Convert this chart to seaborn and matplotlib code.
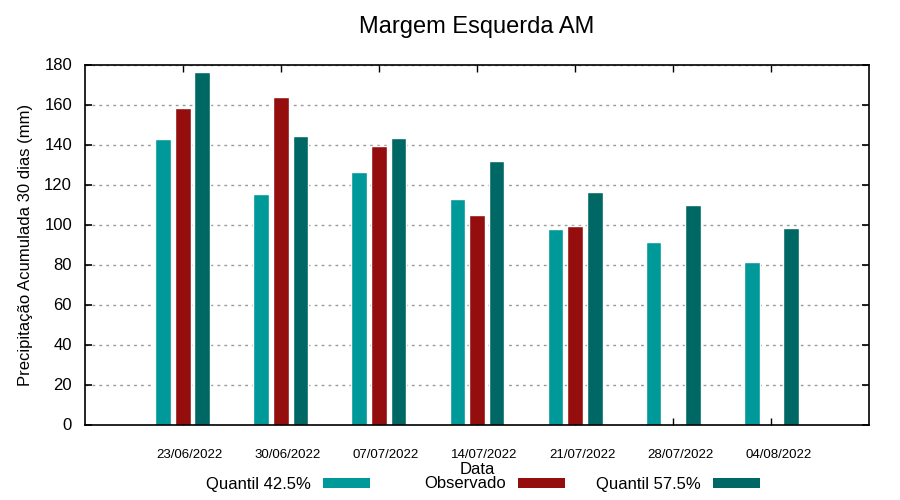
import pandas as pd
import numpy as np
import seaborn as sns
import matplotlib.pyplot as plt
import matplotlib.transforms as mtransforms
from matplotlib.patches import Patch

# weekly dates and the three series
datas = ["23/06/2022", "30/06/2022", "07/07/2022", "14/07/2022",
         "21/07/2022", "28/07/2022", "04/08/2022"]
quantil_425 = [142.6, 115.1, 126.1, 112.6, 97.6, 91.1, 81.1]
observado = [158.1, 163.6, 139.1, 104.6, 99.1, np.nan, np.nan]
quantil_575 = [176.1, 144.1, 143.1, 131.6, 116.1, 109.6, 98.1]

series = ["Quantil 42.5%", "Observado", "Quantil 57.5%"]
cores = ["#009999", "#940e0e", "#006864"]

df = pd.DataFrame({
    "Data": datas * 3,
    "serie": np.repeat(series, len(datas)),
    "valor": quantil_425 + observado + quantil_575,
}).dropna()

sns.set_style("white")
plt.rcParams["font.family"] = ["Liberation Sans", "DejaVu Sans"]
plt.rcParams["text.color"] = "black"
plt.rcParams["axes.labelcolor"] = "black"

fig = plt.figure(figsize=(9, 5), dpi=100)
ax = fig.add_axes([0.094, 0.151, 0.872, 0.72])

sns.barplot(data=df, x="Data", y="valor", hue="serie", order=datas,
            hue_order=series, palette=cores, width=0.6, gap=0.2,
            saturation=1, errorbar=None, legend=False, ax=ax)

ax.set_xlim(-1, 7)
ax.set_ylim(0, 180)
ax.set_yticks(range(0, 181, 20))
ax.yaxis.grid(True, linestyle=(0, (2, 3)), color="#999999", linewidth=1)
ax.set_axisbelow(True)
for s in ax.spines.values():
    s.set_color("black")
    s.set_linewidth(1.2)

ax.tick_params(axis="y", direction="in", length=5, width=1.2, labelsize=12,
               right=True, left=True, colors="black", pad=9)
ax.tick_params(axis="x", direction="in", length=5, width=1, labelsize=9.5,
               top=True, bottom=True, colors="black", pad=18)
# labels sit a bit to the right of the ticks, gnuplot style
off = mtransforms.ScaledTranslation(7 / 100, 0, fig.dpi_scale_trans)
for lbl in ax.get_xticklabels():
    lbl.set_transform(lbl.get_transform() + off)

ax.set_xlabel("Data", fontsize=12, labelpad=0)
ax.set_ylabel("Precipitação Acumulada 30 dias (mm)", fontsize=12, labelpad=8)
# title centred over the plot area, not the figure
fig.suptitle("Margem Esquerda AM", fontsize=17, x=0.53, y=0.968)

# gnuplot key: right-aligned text, then the swatch, fixed column width
right_edges = [370 / 900, 565 / 900, 760 / 900]
for nome, cor, xr in zip(series, cores, right_edges):
    fig.legend([Patch(facecolor=cor, edgecolor="none")], [nome],
               loc="center right", bbox_to_anchor=(xr, 0.032),
               frameon=False, markerfirst=False, fontsize=12,
               handlelength=2.8, handleheight=0.55, handletextpad=0.75,
               borderpad=0, borderaxespad=0)

plt.savefig("out.png", dpi=100)
